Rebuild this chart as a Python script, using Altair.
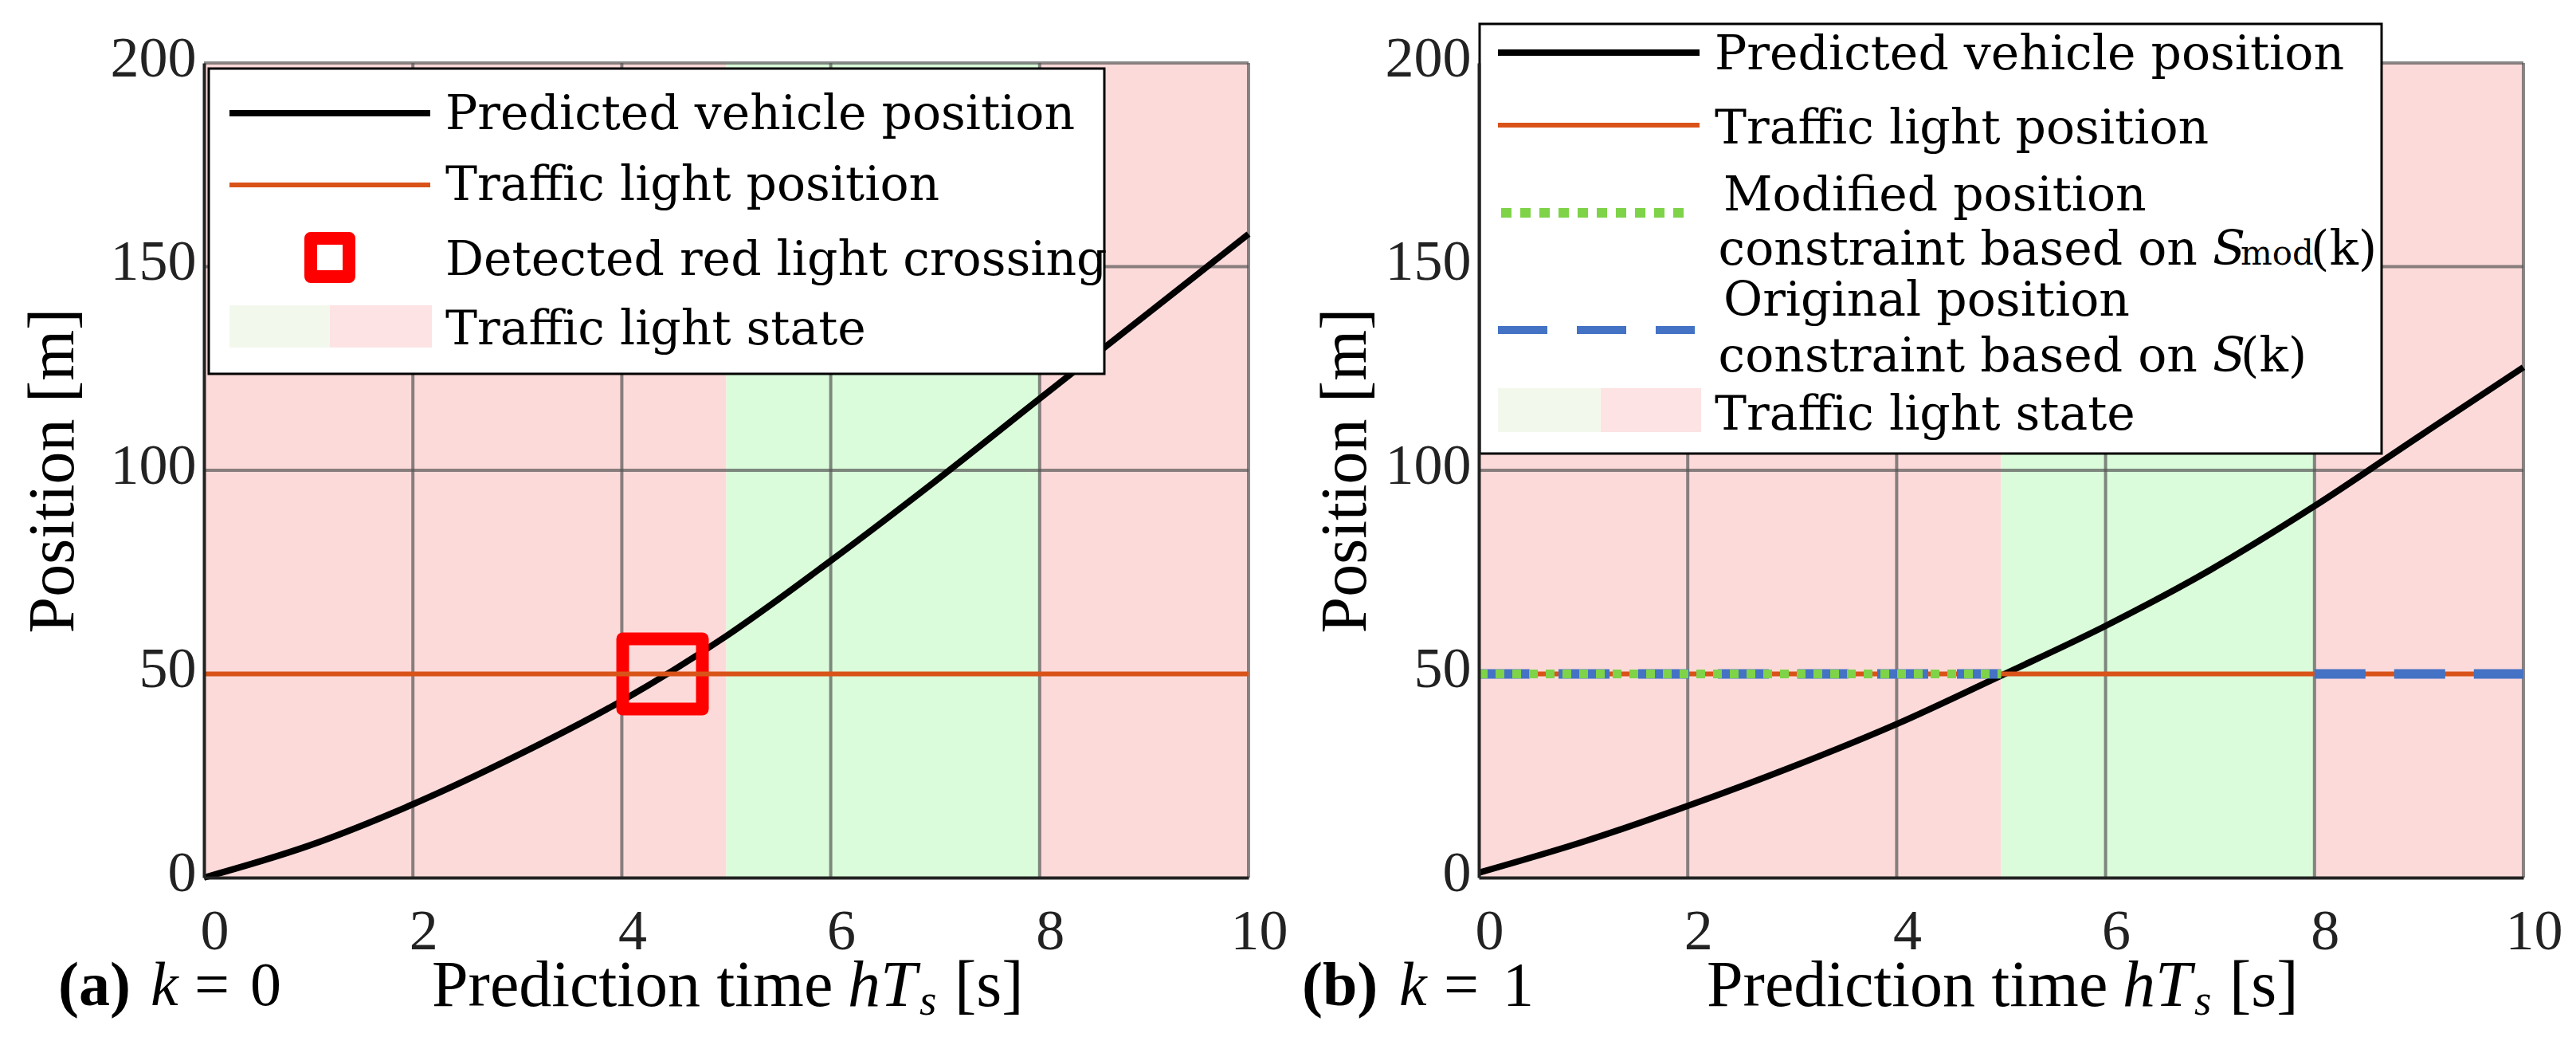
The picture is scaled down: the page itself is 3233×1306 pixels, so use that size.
import altair as alt
import pandas as pd

# ---------------- data ----------------
time_s = [0, 1, 2, 3, 4, 5, 6, 7, 8, 9, 10]
pos_a = [0, 7.8, 18, 30, 43.4, 59.3, 77.8, 97.3, 117.6, 137.8, 158]
pos_b = [1.2, 8.8, 17.6, 27.2, 37.7, 49.6, 61.8, 75.5, 91.2, 108.3, 125.3]
light_pos = [50]
light_start = [0]
light_end = [10]
state_start = [0, 5, 8]
state_end = [5, 8, 10]
state_name = ["red", "green", "red"]
crossing_t = [4.39]
crossing_pos = [50]
orig_start = [0, 8]
orig_end = [5, 10]
mod_start = [0]
mod_end = [5]
x_ticks = [0, 2, 4, 6, 8, 10]
y_ticks = [0, 50, 100, 150, 200]
x_grid = [2, 4, 6, 8, 10]
y_grid = [50, 100, 150, 200]

# ---------------- style ----------------
W, H = 1311, 1022
FONT = "Liberation Serif"
LFONT = "DejaVu Serif"
PINK = "#FDDADA"
GREEN = "#DAFCDA"
PINK_L = "#FDE3E3"
GREEN_L = "#F3F8EC"
ORANGE = "#D95319"
BLUE = "#4472C4"
LIME = "#7ED348"
RED = "#FF0000"
GRID = "#555555"
LEG_F = 60

xs = alt.Scale(domain=[0, 10], nice=False, zero=False)
ys = alt.Scale(domain=[0, 200], nice=False)
one = pd.DataFrame({"k": [0]})

XAX = alt.Axis(
    values=x_ticks, title=None, grid=False, ticks=False, tickSize=0,
    domainColor="#222222", domainWidth=4, labelFont=FONT, labelFontSize=72,
    labelColor="#222222", labelPadding=32, labelBaseline="top", labelOffset=13,
    labelFlush=False, labelOverlap=False, format="d", zindex=1)


def yax(title_pad):
    return alt.Axis(
        values=y_ticks, title="Position [m]", titleFont=FONT, titleFontSize=82,
        titleFontWeight="normal", titleColor="black", titlePadding=title_pad,
        grid=False, ticks=False, tickSize=0, domainColor="#222222", domainWidth=4,
        labelFont=FONT, labelFontSize=72, labelColor="#222222", labelPadding=10,
        labelOffset=-6, labelOverlap=False, format="d", zindex=1)


def txt(s, x, y, size, style="normal", weight="normal", font=FONT, align="left"):
    return alt.Chart(one).mark_text(
        text=s, font=font, fontSize=size, fontStyle=style, fontWeight=weight,
        baseline="alphabetic", align=align, color="black"
    ).encode(x=alt.value(x), y=alt.value(y))


def ltxt(s, x, y, size=LEG_F, style="normal", align="left"):
    return txt(s, x, y, size, style=style, font=LFONT, align=align)


def box(x1, x2, y1, y2, fill, stroke=None, sw=0):
    kw = dict(fill=fill)
    if stroke:
        kw.update(stroke=stroke, strokeWidth=sw)
    return alt.Chart(one).mark_rect(**kw).encode(
        x=alt.value(x1), x2=alt.value(x2), y=alt.value(y1), y2=alt.value(y2))


def hline(x1, x2, y, color, sw, dash=None):
    kw = dict(color=color, strokeWidth=sw)
    if dash:
        kw["strokeDash"] = dash
    return alt.Chart(one).mark_rule(**kw).encode(
        x=alt.value(x1), x2=alt.value(x2), y=alt.value(y))


def build_panel(pos, title_pad, extra_marks, legend, labels):
    YAX = yax(title_pad)
    X = lambda f: alt.X(f, scale=xs, axis=XAX)
    Y = lambda f: alt.Y(f, scale=ys, axis=YAX)

    bg = alt.Chart(pd.DataFrame({"s": state_start, "e": state_end, "c": state_name})).mark_rect().encode(
        x=X("s:Q"), x2="e:Q",
        y=alt.value(0), y2=alt.value(H),
        color=alt.Color("c:N", scale=alt.Scale(domain=["red", "green"], range=[PINK, GREEN]), legend=None),
    )
    vgrid = alt.Chart(pd.DataFrame({"g": x_grid})).mark_rule(color=GRID, strokeWidth=4, opacity=0.7).encode(
        x=X("g:Q"), y=alt.value(0), y2=alt.value(H))
    hgrid = alt.Chart(pd.DataFrame({"g": y_grid})).mark_rule(color=GRID, strokeWidth=4, opacity=0.7).encode(
        y=Y("g:Q"), x=alt.value(0), x2=alt.value(W))
    curve = alt.Chart(pd.DataFrame({"t": time_s, "p": pos})).mark_line(
        color="black", strokeWidth=8, interpolate="monotone").encode(x=X("t:Q"), y=Y("p:Q"))
    orange = alt.Chart(pd.DataFrame({"s": light_start, "e": light_end, "p": light_pos})).mark_rule(
        color=ORANGE, strokeWidth=6).encode(x=X("s:Q"), x2="e:Q", y=Y("p:Q"))

    pre, post = [], []
    for kind, df, props in extra_marks:
        if kind == "point":
            pre.append(alt.Chart(df).mark_point(**props).encode(x=X("t:Q"), y=Y("p:Q")))
        else:
            post.append(alt.Chart(df).mark_rule(**props).encode(x=X("s:Q"), x2="e:Q", y=Y("p:Q")))

    b = 1183
    xtitle = [
        txt("Prediction time", 286, b, 82),
        txt("hT", 808, b, 82, style="italic"),
        txt("s", 898, b + 11, 55, style="italic"),
        txt("[s]", 942, b, 82),
    ]
    return alt.layer(bg, vgrid, hgrid, curve, *pre, orange, *post, *legend, *xtitle, *labels).properties(
        width=W, height=H)


# ---------------- panel (a) ----------------
marker_a = ("point", pd.DataFrame({"t": crossing_t, "p": crossing_pos}),
            dict(shape="M-1,-0.88L1,-0.88L1,0.88L-1,0.88Z", size=10000, filled=False,
                 strokeWidth=16, color=RED, opacity=1, strokeJoin="round"))
leg_a = [
    box(6, 1130, 7, 390, "white", "black", 3),
    hline(32, 284, 63, "black", 8),
    ltxt("Predicted vehicle position", 303, 83),
    hline(32, 284, 153, ORANGE, 6),
    ltxt("Traffic light position", 303, 172),
    alt.Chart(one).mark_point(shape="square", size=2304, filled=False, strokeWidth=16,
                              color=RED, opacity=1, strokeJoin="round").encode(
        x=alt.value(158), y=alt.value(244)),
    ltxt("Detected red light crossing", 303, 266),
    box(32, 158, 304, 357, GREEN_L),
    box(158, 286, 304, 357, PINK_L),
    ltxt("Traffic light state", 303, 353),
]
lab_a = [
    txt("(a)", -183, 1182, 78, weight="bold"),
    txt("k", -67, 1182, 78, style="italic"),
    txt("=", -12, 1182, 78),
    txt("0", 58, 1182, 78),
]
panel_a = build_panel(pos_a, 30, [marker_a], leg_a, lab_a)

# ---------------- panel (b) ----------------
orig_b = ("rule", pd.DataFrame({"s": orig_start, "e": orig_end, "p": light_pos * len(orig_start)}),
          dict(color=BLUE, strokeWidth=12, strokeDash=[64, 36]))
mod_b = ("rule", pd.DataFrame({"s": mod_start, "e": mod_end, "p": light_pos * len(mod_start)}),
         dict(color=LIME, strokeWidth=11, strokeDash=[11, 10]))
leg_b = [
    box(1, 1133, -49, 490, "white", "black", 3),
    hline(24, 277, -13, "black", 8),
    ltxt("Predicted vehicle position", 296, 8),
    hline(24, 277, 78, ORANGE, 6),
    ltxt("Traffic light position", 296, 101),
    hline(28, 266, 188, LIME, 12, [13, 11]),
    ltxt("Modified position", 307, 185),
    ltxt("constraint based on", 902, 253, align="right"),
    ltxt("S", 921, 253, style="italic"),
    ltxt("mod", 956, 253, size=42),
    ltxt("(k)", 1044, 253),
    hline(24, 271, 335, BLUE, 10, [62, 37]),
    ltxt("Original position", 307, 317),
    ltxt("constraint based on", 902, 387, align="right"),
    ltxt("S", 921, 387, style="italic"),
    ltxt("(k)", 956, 387),
    box(24, 153, 408, 463, GREEN_L),
    box(153, 279, 408, 463, PINK_L),
    ltxt("Traffic light state", 296, 460),
]
lab_b = [
    txt("(b)", -222, 1182, 78, weight="bold"),
    txt("k", -100, 1182, 78, style="italic"),
    txt("=", -44, 1182, 78),
    txt("1", 30, 1182, 78),
]
panel_b = build_panel(pos_b, 8, [orig_b, mod_b], leg_b, lab_b)

chart = alt.hconcat(panel_a, panel_b, spacing=18).properties(
    padding={"left": 17, "top": 20, "right": 0, "bottom": 0}
).configure_view(strokeWidth=0)

chart.save("out.html", embed_options={"renderer": "svg", "actions": False})
